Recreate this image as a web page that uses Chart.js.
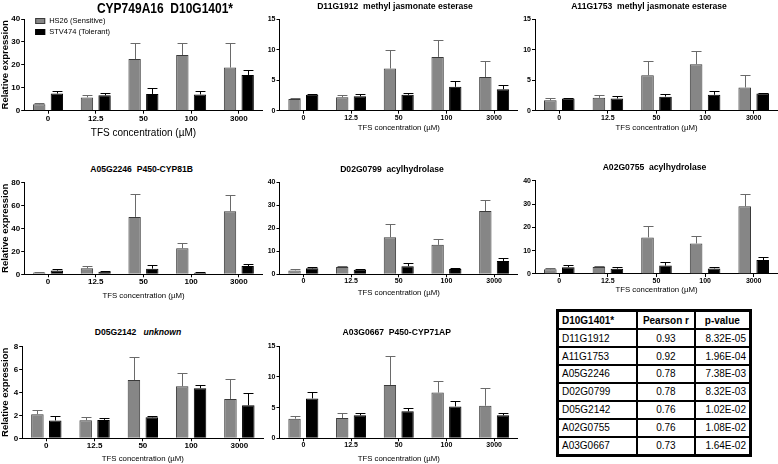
<!DOCTYPE html>
<html>
<head>
<meta charset="utf-8">
<script src="https://cdn.jsdelivr.net/npm/chart.js@4.4.1/dist/chart.umd.min.js"></script>
<style>
  body { margin: 0; background: #fff; width: 778px; height: 464px; overflow: hidden; position: relative;
         font-family: 'Liberation Sans', Arial, sans-serif; }
  canvas { position: absolute; }
  .ttl { position: absolute; transform: translate(-50%, -50%); white-space: pre; font-weight: bold;
         font-size: 8.6px; line-height: 1; color: #000; }
  .big { font-size: 15px; transform: translate(-50%, -50%) scaleX(0.8); }
  table { position: absolute; left: 556px; top: 309px; width: 196px; height: 148px;
          border-collapse: collapse; border: 3px solid #000; font-size: 10px; color: #000; }
  td { border: 2px solid #000; padding: 0 3px; }
  td.c { text-align: center; }
  td.r { text-align: right; }
  tr.h td { font-weight: bold; }
</style>
</head>
<body>
<script>
// TFS concentrations (uM)
const concentrations = ['0', '12.5', '50', '100', '3000'];

const geneIds = ['D10G1401*', 'D11G1912', 'A11G1753', 'A05G2246', 'D02G0799', 'A02G0755', 'D05G2142', 'A03G0667'];
const geneNames = ['CYP749A16', 'methyl jasmonate esterase', 'methyl jasmonate esterase', 'P450-CYP81B',
                   'acylhydrolase', 'acylhydrolase', 'unknown', 'P450-CYP71AP'];

// HS26 (Sensitive) mean + error
const hs26Mean = [
  [2.8, 5.8, 22.5, 24.3, 18.8],
  [1.9, 2.2, 6.9, 8.8, 5.5],
  [1.7, 2.1, 5.8, 7.6, 3.8],
  [1.5, 5.2, 49.9, 22.6, 54.8],
  [1.7, 3.2, 16.1, 12.8, 27.5],
  [2.0, 3.0, 15.7, 13.1, 29.0],
  [2.1, 1.57, 5.07, 4.52, 3.42],
  [3.2, 3.3, 8.7, 7.45, 5.3]
];
const hs26Err = [
  [0.4, 0.9, 6.9, 5.4, 10.6],
  [0.2, 0.3, 3.1, 2.8, 2.7],
  [0.3, 0.5, 2.3, 2.2, 2.1],
  [0.5, 1.8, 20.0, 4.9, 14.2],
  [0.5, 0.3, 5.8, 2.4, 5.0],
  [0.4, 0.6, 5.0, 3.3, 5.1],
  [0.4, 0.29, 1.97, 1.13, 1.71],
  [0.4, 0.9, 4.7, 1.95, 2.9]
];

// STV474 (Tolerant) mean + error
const stv474Mean = [
  [7.5, 6.7, 7.3, 7.1, 15.6],
  [2.6, 2.35, 2.6, 3.9, 3.5],
  [2.0, 2.0, 2.3, 2.6, 2.8],
  [3.2, 2.3, 4.9, 1.4, 7.2],
  [2.6, 2.0, 3.5, 2.3, 5.8],
  [2.9, 2.3, 3.6, 2.4, 6.0],
  [1.55, 1.6, 1.83, 4.35, 2.87],
  [6.5, 3.75, 4.4, 5.2, 3.75]
];
const stv474Err = [
  [1.3, 1.2, 2.4, 1.3, 2.3],
  [0.1, 0.45, 0.3, 1.0, 0.75],
  [0.05, 0.35, 0.4, 0.6, 0.15],
  [1.1, 0.6, 2.9, 0.3, 1.5],
  [0.7, 0.5, 1.6, 0.6, 1.2],
  [0.8, 0.6, 1.4, 0.6, 1.1],
  [0.35, 0.14, 0.07, 0.25, 1.1],
  [1.1, 0.45, 0.6, 0.9, 0.45]
];

const yMax = [40, 15, 15, 80, 40, 40, 8, 15];
const yStep = [10, 5, 5, 20, 10, 10, 2, 5];

// correlation table
const tableGenes = ['D11G1912', 'A11G1753', 'A05G2246', 'D02G0799', 'D05G2142', 'A02G0755', 'A03G0667'];
const pearsonR = ['0.93', '0.92', '0.78', '0.78', '0.76', '0.76', '0.73'];
const pValues = ['8.32E-05', '1.96E-04', '7.38E-03', '8.32E-03', '1.02E-02', '1.08E-02', '1.64E-02'];

// panel placement: chart area edges, x-axis box height, font sizes, title centre
const layout = [
  { l: 24.2, r: 262.7, t: 19, b: 110.7, xh: 29, tick: 8, xt: 10, yTitle: true, tx: 165, ty: 7.3 },
  { l: 279.5, r: 518, t: 19, b: 110.7, xh: 22.3, tick: 7, xt: 7.8, tx: 395, ty: 5.7 },
  { l: 535, r: 778, t: 19, b: 110.7, xh: 21.7, tick: 7, xt: 7.8, tx: 649, ty: 5.7 },
  { l: 24.2, r: 262.7, t: 182.3, b: 274.3, xh: 26.1, tick: 8, xt: 7.8, yTitle: true, tx: 141.7, ty: 169 },
  { l: 279.5, r: 518, t: 182.3, b: 274.3, xh: 23.1, tick: 7, xt: 7.8, tx: 392, ty: 169 },
  { l: 535, r: 778, t: 180.7, b: 274, xh: 20.7, tick: 7, xt: 7.8, tx: 654.5, ty: 166.7 },
  { l: 22.2, r: 263.5, t: 346.3, b: 438.3, xh: 25.4, tick: 8, xt: 7.8, yTitle: true, tx: 138, ty: 332.3 },
  { l: 279.5, r: 518, t: 346.3, b: 438.3, xh: 25.4, tick: 7, xt: 7.8, tx: 396.7, ty: 331.7 }
];

const FONT = "'Liberation Sans', Arial, sans-serif";

const errorBars = {
  id: 'errorBars',
  afterDatasetsDraw(chart) {
    const ctx = chart.ctx;
    const ys = chart.scales.y;
    chart.data.datasets.forEach((ds, di) => {
      const meta = chart.getDatasetMeta(di);
      meta.data.forEach((bar, k) => {
        const x = Math.round(bar.x) + 0.5;
        const top = Math.round(ys.getPixelForValue(ds.data[k] + ds.errors[k])) + 0.5;
        const half = bar.width * 0.4;
        ctx.save();
        ctx.strokeStyle = ds.errorColor;
        ctx.lineWidth = 1;
        ctx.beginPath();
        ctx.moveTo(x, bar.y);
        ctx.lineTo(x, top);
        ctx.moveTo(x - half, top);
        ctx.lineTo(x + half, top);
        ctx.stroke();
        ctx.restore();
      });
    });
  }
};

const insetLegend = {
  id: 'insetLegend',
  afterDraw(chart, args, opts) {
    if (!opts.show) return;
    const ctx = chart.ctx;
    const a = chart.chartArea;
    ctx.save();
    ctx.font = '7.5px ' + FONT;
    ctx.textBaseline = 'middle';
    chart.data.datasets.forEach((ds, i) => {
      const y = a.top + 2 + i * 11;
      ctx.fillStyle = ds.backgroundColor;
      ctx.strokeStyle = ds.borderColor;
      ctx.fillRect(a.left + 11, y - 3, 10, 6);
      ctx.strokeRect(a.left + 11.5, y - 2.5, 9, 5);
      ctx.fillStyle = '#000';
      ctx.fillText(ds.label, a.left + 25, y);
    });
    ctx.restore();
  }
};

function makePanel(i) {
  const p = layout[i];
  const left = p.yTitle ? 0 : Math.floor(p.l) - 30;
  const top = Math.floor(p.t) - 8;
  const w = Math.ceil(p.r - left);
  const h = Math.ceil(p.b + p.xh - top);
  const yw = p.l - left;

  const cv = document.createElement('canvas');
  cv.width = w; cv.height = h;
  cv.style.left = left + 'px'; cv.style.top = top + 'px';
  cv.style.width = w + 'px'; cv.style.height = h + 'px';
  document.body.appendChild(cv);

  // title as html text
  const t = document.createElement('div');
  t.className = 'ttl' + (i === 0 ? ' big' : '');
  t.style.left = p.tx + 'px';
  t.style.top = p.ty + 'px';
  if (i === 0) t.textContent = geneNames[0] + '  ' + geneIds[0];
  else if (i === 6) t.innerHTML = geneIds[i] + '   <i>' + geneNames[i] + '</i>';
  else t.textContent = geneIds[i] + '  ' + geneNames[i];
  document.body.appendChild(t);

  new Chart(cv, {
    type: 'bar',
    data: {
      labels: concentrations,
      datasets: [{
        label: 'HS26 (Sensitive)',
        data: hs26Mean[i],
        errors: hs26Err[i],
        errorColor: '#6a6a6a',
        backgroundColor: '#868686',
        borderColor: '#3a3a3a',
        borderWidth: 1,
        barPercentage: 0.7,
        categoryPercentage: 0.74
      }, {
        label: 'STV474 (Tolerant)',
        data: stv474Mean[i],
        errors: stv474Err[i],
        errorColor: '#000',
        backgroundColor: '#000',
        borderColor: '#000',
        borderWidth: 1,
        barPercentage: 0.7,
        categoryPercentage: 0.74
      }]
    },
    options: {
      responsive: false,
      animation: false,
      devicePixelRatio: 1,
      layout: {
        padding: { left: 0, top: p.t - top, right: w - (p.r - left), bottom: h - (p.b + p.xh - top) }
      },
      plugins: {
        legend: { display: false },
        tooltip: { enabled: false },
        insetLegend: { show: i === 0 }
      },
      scales: {
        x: {
          offset: true,
          grid: { display: true, drawOnChartArea: false, offset: false, tickLength: 3, color: '#000' },
          border: { color: '#000', width: 1 },
          ticks: { color: '#000', padding: 0, maxRotation: 0, autoSkip: false,
                   font: { family: FONT, size: p.tick, weight: 'bold' } },
          title: { display: true, text: 'TFS concentration (µM)', color: '#000', padding: 0,
                   font: { family: FONT, size: p.xt } },
          afterFit: (s) => { s.height = p.xh; }
        },
        y: {
          min: 0,
          max: yMax[i],
          grid: { display: true, drawOnChartArea: false, tickLength: 3, color: '#000' },
          border: { color: '#000', width: 1 },
          ticks: { stepSize: yStep[i], color: '#000', padding: 1,
                   font: { family: FONT, size: p.tick, weight: 'bold' } },
          title: { display: !!p.yTitle, text: 'Relative expression', color: '#000', padding: 0,
                   font: { family: FONT, size: 9.5, weight: 'bold' } },
          afterFit: (s) => { s.width = yw; }
        }
      }
    },
    plugins: [errorBars, insetLegend]
  });
}

for (let i = 0; i < layout.length; i++) makePanel(i);

// table
const tbl = document.createElement('table');
let html = '<colgroup><col style="width:81px"><col style="width:58px"><col style="width:57px"></colgroup>';
html += '<tr class="h"><td>' + geneIds[0] + '</td><td class="c">Pearson r</td><td class="c">p-value</td></tr>';
for (let k = 0; k < tableGenes.length; k++) {
  html += '<tr><td>' + tableGenes[k] + '</td><td class="c">' + pearsonR[k] + '</td><td class="r">' + pValues[k] + '</td></tr>';
}
tbl.innerHTML = html;
document.body.appendChild(tbl);
</script>
</body>
</html>
